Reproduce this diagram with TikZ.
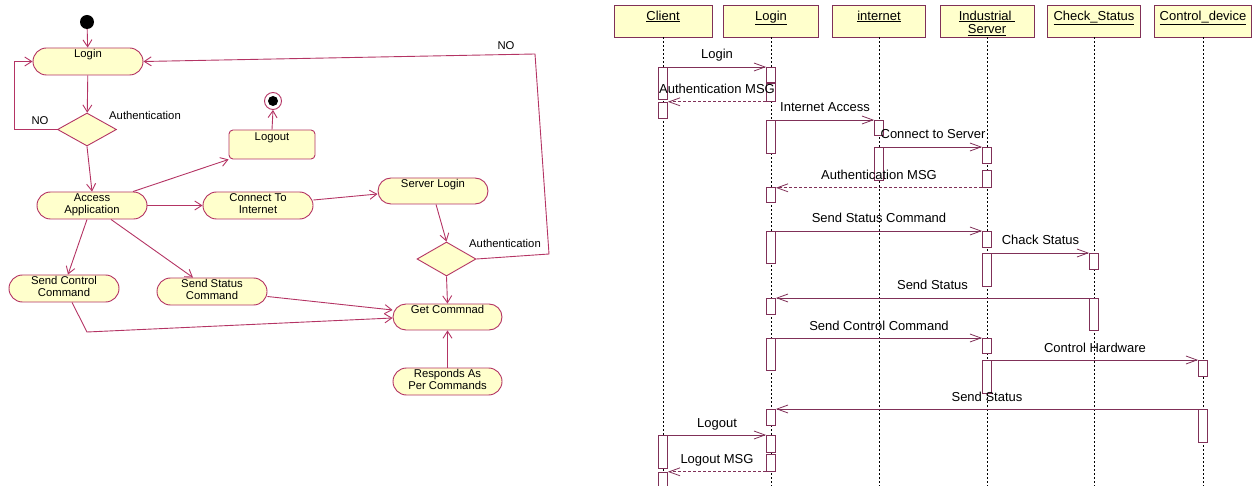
\documentclass[tikz,border=0pt]{standalone}
\usepackage{fontspec}
\setmainfont{Liberation Sans}
\usetikzlibrary{shapes.misc,shapes.geometric,arrows.meta}
\definecolor{lc}{RGB}{180,52,100}
\definecolor{yf}{RGB}{255,255,204}
\definecolor{sc}{RGB}{128,48,88}
\begin{document}
\begin{tikzpicture}[x=1pt,y=-1pt, font=\fontsize{11.3}{11.5}\selectfont,
  act/.style={rounded rectangle, draw=lc, fill=yf, line width=0.9pt, minimum width=110pt, minimum height=27pt, inner sep=0pt},
  toplbl/.style={anchor=north, inner sep=0pt, yshift=-2pt, align=center},
  dec/.style={diamond, draw=lc, fill=yf, line width=0.9pt, minimum width=59pt, minimum height=33pt, inner sep=0pt},
  flow/.style={draw=lc, line width=0.9pt, -{Straight Barb[length=7pt,width=9pt]}},
  plainline/.style={draw=lc, line width=0.9pt},
  hdr/.style={rectangle, draw=sc, fill=yf, line width=0.9pt, minimum height=32pt, inner sep=0pt},
  hdrtxt/.style={anchor=north, inner sep=0pt, yshift=-6pt, align=center, font=\fontsize{13}{13.5}\selectfont},
  life/.style={draw=black, line width=0.8pt, dash pattern=on 2pt off 2pt},
  actbar/.style={rectangle, draw=sc, fill=white, line width=0.8pt, minimum width=9pt, inner sep=0pt, anchor=north},
  msg/.style={draw=sc, line width=0.8pt, -{Straight Barb[length=11pt,width=8pt]}},
  ret/.style={msg, dash pattern=on 3pt off 2pt},
  mlbl/.style={anchor=base, yshift=8pt, inner sep=0pt, font=\fontsize{13}{13.5}\selectfont},
  freetxt/.style={inner sep=0pt},
]
\useasboundingbox (0,0) rectangle (1255,486);

% ---------------- Activity diagram ----------------
\node[circle, fill=black, minimum size=14pt, inner sep=0pt] (init) at (87,22) {};
\node[act, label={[toplbl]north:Login}] (login) at (88,61.5) {};
\node[dec] (dia1) at (87,129.5) {};
\node[freetxt] (auth1) at (145,115) {Authentication};
\node[freetxt] (no1) at (40,121) {NO};
\node[circle, draw=lc, line width=0.9pt, minimum size=17pt, inner sep=0pt] (endn) at (273,101) {};
\node[circle, fill=black, minimum size=10pt, inner sep=0pt] (endin) at (endn) {};
\node[rectangle, rounded corners=4pt, draw=lc, fill=yf, line width=0.9pt, minimum width=86pt, minimum height=29pt, label={[toplbl,yshift=-1pt]north:Logout}] (logout) at (272,144.5) {};
\node[act, label={[toplbl]north:Access\\Application}] (access) at (92,205.5) {};
\node[act, label={[toplbl]north:Connect To\\Internet}] (conn) at (258,205.5) {};
\node[act, minimum height=26pt, label={[toplbl]north:Server Login}] (slogin) at (433,191) {};
\node[dec, minimum height=34pt] (dia2) at (446.5,259) {};
\node[freetxt] (auth2) at (505,243) {Authentication};
\node[freetxt] (no2) at (506,46) {NO};
\node[act, minimum width=109pt, minimum height=26pt, label={[toplbl]north:Get Commnad}] (getc) at (447.5,317) {};
\node[act, minimum width=109pt, label={[toplbl]north:Responds As\\Per Commands}] (resp) at (447.5,381.5) {};
\node[act, label={[toplbl]north:Send Control\\Command}] (sctl) at (64,288.5) {};
\node[act, label={[toplbl]north:Send Status\\Command}] (ssts) at (212,291.5) {};

\coordinate (n1) at (14,130);
\coordinate (p1) at (549,254);
\coordinate (p2) at (535,54);
\coordinate (q1) at (87,332);

\draw[flow] (init) -- (login);
\draw[flow] (login) -- (dia1);
\draw[flow] (dia1.west) -- (dia1.west -| n1) |- (login.west);
\draw[flow] (dia1.south) -- (access.north);
\draw[flow] ([xshift=41pt]access.north) -- (logout.south west);
\draw[flow] (logout.north) -- (endn.south);
\draw[flow] (access.east) -- (conn.west);
\draw[flow] ([yshift=5.5pt]conn.east) -- ([yshift=-3pt]slogin.west);
\draw[flow] ([xshift=3pt]slogin.south) -- (dia2.north);
\draw[flow] (dia2.east) -- (p1) -- (p2) -- (login.east);
\draw[flow] (dia2.south) -- (getc.north);
\draw[flow] (resp.north) -- (getc.south);
\draw[flow] ([xshift=-5pt]access.south) -- ([xshift=4pt]sctl.north);
\draw[flow] ([xshift=19pt]access.south) -- ([xshift=-19pt]ssts.north);
\draw[flow] ([yshift=-5pt]ssts.east) -- ([yshift=7pt]getc.west);
\draw[flow] ([xshift=8pt]sctl.south) -- (q1) -- ([yshift=-1pt]getc.west);

% ---------------- Sequence diagram ----------------
\coordinate (bot) at (0,490);
\node[hdr, minimum width=98pt, label={[hdrtxt]north:\underline{Client}}] (hc) at (663,21) {};
\node[hdr, minimum width=95pt, label={[hdrtxt]north:\underline{Login}}] (hl) at (771,21) {};
\node[hdr, minimum width=93pt, label={[hdrtxt]north:\underline{internet}}] (hi) at (879,21) {};
\node[hdr, minimum width=94pt, label={[hdrtxt]north:\underline{Industrial }\\\underline{Server}}] (hs) at (987,21) {};
\node[hdr, minimum width=93pt, label={[hdrtxt]north:\underline{Check\_Status}}] (hk) at (1094,21) {};
\node[hdr, minimum width=97pt, label={[hdrtxt]north:\underline{Control\_device}}] (hd) at (1203,21) {};

\foreach \h in {hc,hl,hi,hs,hk,hd}
  \draw[life] (\h.south) -- (\h.south |- bot);

% activation bars
\node[actbar, minimum height=32pt] (c1) at (663,67) {};
\node[actbar, minimum height=16pt] (c2) at (663,102) {};
\node[actbar, minimum height=33pt] (c3) at (663,435) {};
\node[actbar, minimum height=20pt] (c4) at (663,472) {};
\node[actbar, minimum height=15pt] (l1) at (771,67) {};
\node[actbar, minimum height=18pt] (l2) at (771,83) {};
\node[actbar, minimum height=33pt] (l3) at (771,120) {};
\node[actbar, minimum height=15pt] (l4) at (771,187) {};
\node[actbar, minimum height=32pt] (l5) at (771,231) {};
\node[actbar, minimum height=16pt] (l6) at (771,298) {};
\node[actbar, minimum height=32pt] (l7) at (771,338) {};
\node[actbar, minimum height=16pt] (l8) at (771,409) {};
\node[actbar, minimum height=17pt] (l9) at (771,435) {};
\node[actbar, minimum height=17pt] (l10) at (771,454) {};
\node[actbar, minimum height=15pt] (i1) at (879,120) {};
\node[actbar, minimum height=33pt] (i2) at (879,147) {};
\node[actbar, minimum height=16pt] (s1) at (987,147) {};
\node[actbar, minimum height=17pt] (s2) at (987,170) {};
\node[actbar, minimum height=16pt] (s3) at (987,231) {};
\node[actbar, minimum height=33pt] (s4) at (987,253) {};
\node[actbar, minimum height=15pt] (s5) at (987,338) {};
\node[actbar, minimum height=33pt] (s6) at (987,360) {};
\node[actbar, minimum height=16pt] (k1) at (1094,253) {};
\node[actbar, minimum height=32pt] (k2) at (1094,298) {};
\node[actbar, minimum height=16pt] (d1) at (1203,360) {};
\node[actbar, minimum height=33pt] (d2) at (1203,409) {};

% messages
\draw[msg] (c1.north east) -- node[mlbl] (m1) {Login} (l1.north west);
\draw[ret] (l2.south west) -- node[mlbl] (m2) {Authentication MSG} (l2.south west -| c2.east);
\draw[msg] (l3.north east) -- node[mlbl] (m3) {Internet Access} (i1.north west);
\draw[msg] (i2.north east) -- node[mlbl] (m4) {Connect to Server} (s1.north west);
\draw[ret] (s2.south west) -- node[mlbl] (m5) {Authentication MSG} (s2.south west -| l4.east);
\draw[msg] (l5.north east) -- node[mlbl] (m6) {Send Status Command} (s3.north west);
\draw[msg] (s4.north east) -- node[mlbl] (m7) {Chack Status} (k1.north west);
\draw[msg] (k2.north west) -- node[mlbl] (m8) {Send Status} (l6.north east);
\draw[msg] (l7.north east) -- node[mlbl] (m9) {Send Control Command} (s5.north west);
\draw[msg] (s6.north east) -- node[mlbl] (m10) {Control Hardware} (d1.north west);
\draw[msg] (d2.north west) -- node[mlbl] (m11) {Send Status} (l8.north east);
\draw[msg] (c3.north east) -- node[mlbl] (m12) {Logout} (l9.north west);
\draw[ret] (l10.south west) -- node[mlbl] (m13) {Logout MSG} (l10.south west -| c4.east);
\end{tikzpicture}
\end{document}
